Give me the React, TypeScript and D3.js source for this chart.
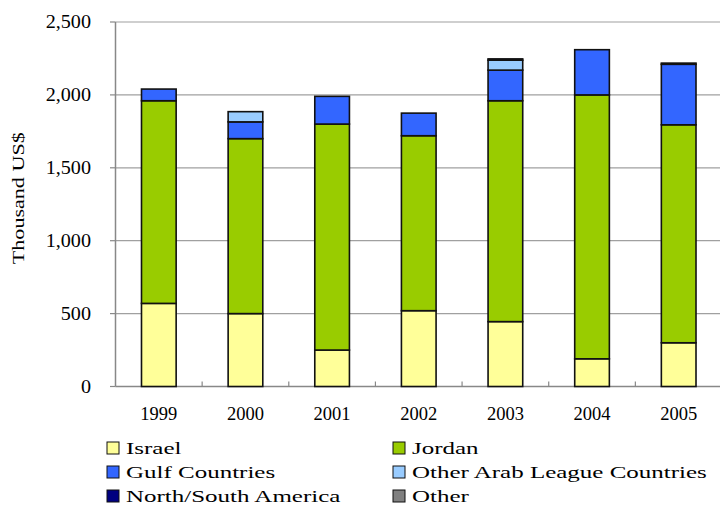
import React from "react";
import * as d3 from "d3";

const years = ["1999", "2000", "2001", "2002", "2003", "2004", "2005"];
const israel = [570, 500, 250, 520, 445, 190, 300];
const jordan = [1390, 1200, 1550, 1200, 1515, 1810, 1495];
const gulf = [80, 115, 190, 155, 210, 310, 415];
const otherArab = [0, 70, 0, 0, 68, 0, 0];
const americas = [0, 0, 0, 0, 9, 0, 8];
const other = [0, 0, 0, 0, 0, 0, 0];
const seriesNames = ["Israel", "Jordan", "Gulf Countries", "Other Arab League Countries", "North/South America", "Other"];
const seriesColors = ["#FFFF99", "#99CC00", "#3366FF", "#99CCFF", "#000080", "#808080"];
const yTicks = [0, 500, 1000, 1500, 2000, 2500];

export default function App() {
  const W = 720, H = 506;
  const series = [israel, jordan, gulf, otherArab, americas, other];
  const x = d3.scaleBand<string>().domain(years).range([115.5, 722]).padding(0);
  const y = d3.scaleLinear().domain([0, 2500]).range([386.5, 22]);
  const fmt = d3.format(",");
  const barW = x.bandwidth() * 0.4;

  const rows = years.map((yr, i) => {
    let acc = 0;
    return series.map((s, k) => {
      const y0 = acc;
      acc += s[i];
      return { yr, k, y0, y1: acc };
    });
  });

  const legendItems = seriesNames.map((n, k) => ({
    name: n,
    color: seriesColors[k],
    col: k % 2,
    row: Math.floor(k / 2),
  }));

  const font = "'Liberation Serif', 'Times New Roman', serif";

  return (
    <svg width={W} height={H} style={{ position: "absolute", left: 0, top: 0 }}>
      <rect x={0} y={0} width={W} height={H} fill="#fff" />
      {yTicks.filter((t) => t > 0).map((t) => (
        <line key={t} x1={115.5} x2={722} y1={y(t)} y2={y(t)} stroke="#a0a0a0" strokeWidth={1.2} />
      ))}
      <line x1={115.5} x2={115.5} y1={y(2500)} y2={y(0)} stroke="#888" strokeWidth={1.5} />
      <line x1={115.5} x2={722} y1={y(0)} y2={y(0)} stroke="#888" strokeWidth={1.5} />
      {yTicks.map((t) => (
        <g key={t}>
          <line x1={110} x2={115.5} y1={y(t)} y2={y(t)} stroke="#888" strokeWidth={1.2} />
          <text
            transform={`translate(91,${y(t) + 6}) scale(1.12,1)`}
            textAnchor="end"
            fontFamily={font}
            fontSize={18}
            fill="#000"
          >
            {fmt(t)}
          </text>
        </g>
      ))}
      {years.slice(1).map((yr) => (
        <line key={yr} x1={x(yr)!} x2={x(yr)!} y1={y(0)} y2={y(0) - 5} stroke="#888" strokeWidth={1.2} />
      ))}
      {rows.map((segs) =>
        segs
          .filter((s) => s.y1 > s.y0)
          .map((s) => (
            <rect
              key={s.yr + s.k}
              x={x(s.yr)! + (x.bandwidth() - barW) / 2}
              y={y(s.y1)}
              width={barW}
              height={y(s.y0) - y(s.y1)}
              fill={seriesColors[s.k]}
              stroke="#111"
              strokeWidth={1.6}
            />
          ))
      )}
      {years.map((yr) => (
        <text
          key={yr}
          x={x(yr)! + x.bandwidth() / 2}
          y={420}
          textAnchor="middle"
          fontFamily={font}
          fontSize={18.5}
          fill="#000"
        >
          {yr}
        </text>
      ))}
      <text
        transform={`translate(24,${y(1250) - 6}) rotate(-90) scale(1.3,1)`}
        textAnchor="middle"
        fontFamily={font}
        fontSize={17}
        fill="#000"
      >
        Thousand US$
      </text>
      {legendItems.map((it) => {
        const lx = it.col === 0 ? 107 : 393;
        const ly = 448 + it.row * 24;
        return (
          <g key={it.name}>
            <rect x={lx} y={ly - 6} width={12} height={12} fill={it.color} stroke="#111" strokeWidth={1} />
            <text
              transform={`translate(${lx + 19},${ly + 5.5}) scale(1.47,1)`}
              fontFamily={font}
              fontSize={17}
              fill="#000"
            >
              {it.name}
            </text>
          </g>
        );
      })}
    </svg>
  );
}
